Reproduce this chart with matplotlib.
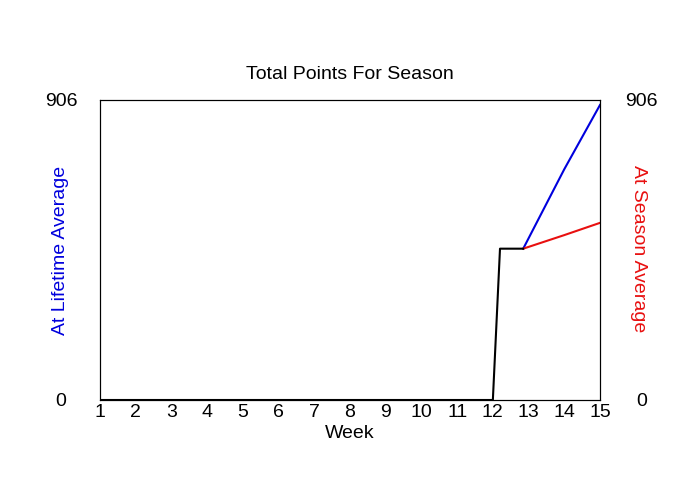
import matplotlib
matplotlib.use("Agg")
import matplotlib.pyplot as plt

# season total, weeks (fractional where the line steps between games)
WEEKS = [1, 2, 3, 4, 5, 6, 7, 8, 9, 10, 11, 12]
BASE_X = WEEKS + [12.2, 12.85]
BASE_Y = [0] * 12 + [457, 457]
LIFETIME_X = [12.85, 14.0, 15.0]
LIFETIME_Y = [457, 697, 891]
SEASON_X = [12.85, 14.0, 15.0]
SEASON_Y = [457, 498, 535]
Y_MAX = 906

plt.rcParams["font.family"] = ["Liberation Sans", "DejaVu Sans"]
FS = 14

fig = plt.figure(figsize=(7, 5), dpi=100)
ax = fig.add_axes([100 / 700, 0.2, 500 / 700, 0.6])

ax.plot(LIFETIME_X, LIFETIME_Y, color="#0000dd", lw=1.5)
ax.plot(SEASON_X, SEASON_Y, color="#e81010", lw=1.5)
ax.plot(BASE_X, BASE_Y, color="black", lw=1.5)

ax.set_xlim(1, 15)
ax.set_ylim(0, Y_MAX)
ax.set_xticks(range(1, 16))
ax.set_yticks([0, Y_MAX])
ax.tick_params(axis="x", length=0, pad=3, labelsize=FS)
ax.tick_params(axis="y", length=0, pad=28, labelsize=FS)
for t in ax.get_yticklabels():
    t.set_horizontalalignment("center")
ax.set_xlabel("Week", fontsize=FS, labelpad=3)
ax.set_ylabel("At Lifetime Average", color="#0000dd", fontsize=FS)
ax.yaxis.set_label_coords(-0.062, 0.5)
ax.set_title("Total Points For Season", fontsize=FS, pad=15)

ax2 = ax.twinx()
ax2.set_ylim(0, Y_MAX)
ax2.set_yticks([0, Y_MAX])
ax2.tick_params(axis="y", length=0, pad=30, labelsize=FS)
for t in ax2.get_yticklabels():
    t.set_horizontalalignment("center")
ax2.set_ylabel("At Season Average", color="#e81010", fontsize=FS, rotation=-90,
               va="center")
ax2.yaxis.set_label_coords(1.076, 0.505)

fig.savefig("out.png", dpi=100)
